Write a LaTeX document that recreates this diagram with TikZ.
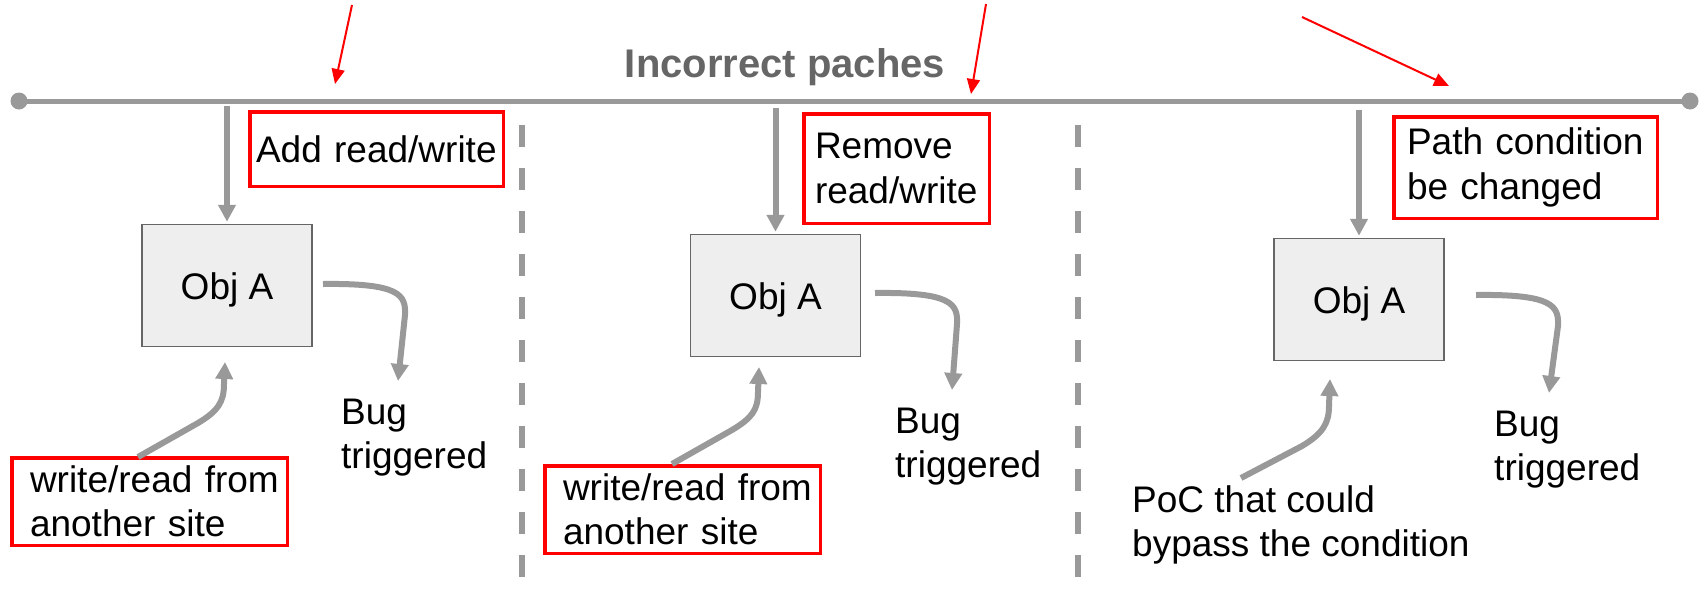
\documentclass[tikz,border=0pt]{standalone}
\usepackage{fontspec}
\setmainfont{Liberation Sans}
\usetikzlibrary{arrows.meta}
\definecolor{lgray}{HTML}{999999}
\definecolor{tgray}{HTML}{666666}
\definecolor{boxfill}{HTML}{EEEEEE}
\definecolor{boxline}{HTML}{666666}
\definecolor{pred}{HTML}{FF0000}
\begin{document}
\begin{tikzpicture}[x=1pt,y=-1pt,
  body/.style={font=\fontsize{37}{44.5}\selectfont},
  redbox/.style={draw=pred, line width=3.5pt, anchor=north west, align=left, inner ysep=0pt, body},
  objbox/.style={draw=boxline, fill=boxfill, line width=1.5pt, minimum width=170pt, minimum height=122pt, body, text height=27pt, text depth=0pt},
  flow/.style={draw=lgray, line width=6pt, line join=round, -{Triangle[length=17pt,width=17pt]}},
  hint/.style={draw=pred, line width=2pt, -{Triangle[length=15pt,width=13pt]}},
  lab/.style={body, align=left, anchor=north west, inner sep=0pt},
  sep/.style={draw=lgray, line width=6pt, dash pattern=on 22pt off 21pt}]
\useasboundingbox (0,0) rectangle (1704,590);

% title
\node[font=\fontsize{40}{48}\selectfont\bfseries, text=tgray, anchor=base] (title) at (785,77) {Incorrect paches};

% timeline
\node[circle, fill=lgray, inner sep=0pt, minimum size=17pt] (tl) at (19,101) {};
\node[circle, fill=lgray, inner sep=0pt, minimum size=17pt] (tr) at (1690,101) {};
\draw[lgray, line width=5pt] (tl.center) -- (tr.center);

% separators
\coordinate (v1t) at (522,125);
\coordinate (v1b) at (522,590);
\coordinate (v2t) at (1078,125);
\coordinate (v2b) at (1078,590);
\draw[sep] (v1t) -- (v1b);
\draw[sep] (v2t) -- (v2b);

% patch boxes
\node[redbox, text width=241pt, inner xsep=6.25pt, minimum height=74.5pt] (p1) at (248,110) {Add read/write};
\node[redbox, text width=163pt, inner xsep=11.25pt, minimum height=109.5pt] (p2) at (802,112) {Remove\\read/write};
\node[redbox, text width=237pt, inner xsep=13.25pt, minimum height=101.5pt] (p3) at (1392,115) {Path condition\\be changed};

% objects
\node[objbox] (o1) at (227,285.5) {Obj A};
\node[objbox] (o2) at (775.5,295.5) {Obj A};
\node[objbox] (o3) at (1359,299.5) {Obj A};

% bottom sources
\node[redbox, text width=239pt, inner xsep=18.25pt, minimum height=87.5pt] (s1box) at (10,456) {write/read~from\\another site};
\node[redbox, text width=239pt, inner xsep=18.25pt, minimum height=87.5pt] (s2box) at (543,464) {write/read~from\\another site};
\node[lab] (poc) at (1132,485) {PoC that could\\bypass the condition};

% bug labels
\node[lab] (bug1) at (341,398.5) {Bug\\triggered};
\node[lab] (bug2) at (895,407.5) {Bug\\triggered};
\node[lab] (bug3) at (1494,410.5) {Bug\\triggered};

% down arrows from timeline
\coordinate (d1) at (227,106);
\coordinate (d2) at (775.5,108);
\coordinate (d3) at (1359,110);
\draw[flow, shorten >=2pt] (d1) -- (o1.north);
\draw[flow, shorten >=2pt] (d2) -- (o2.north);
\draw[flow, shorten >=2pt] (d3) -- (o3.north);

% bug arrows
\coordinate (a1) at (323,284);
\coordinate (c1) at (398,381);
\coordinate (a2) at (875,293);
\coordinate (c2) at (952,390);
\coordinate (a3) at (1476,295);
\coordinate (c3) at (1549,393);
\draw[flow] (a1) .. controls (400,283) and (406,295) .. (405,315) -- (c1);
\draw[flow] (a2) .. controls (952,292) and (958,304) .. (957,324) -- (c2);
\draw[flow] (a3) .. controls (1553,294) and (1559,306) .. (1558,326) -- (c3);

% source arrows
\coordinate (s1) at (138,457);
\coordinate (e1) at (225,362);
\coordinate (s2) at (672,464);
\coordinate (e2) at (759,367);
\coordinate (s3) at (1241,478);
\coordinate (e3) at (1330,379);
\draw[flow] (s1) -- (198,423) .. controls (218,411) and (224,402) .. (224,384) -- (e1);
\draw[flow] (s2) -- (732,430) .. controls (752,418) and (758,410) .. (758,392) -- (e2);
\draw[flow] (s3) -- (1302,446) .. controls (1322,434) and (1329,424) .. (1329,406) -- (e3);

% red hint arrows
\coordinate (h1s) at (352,5);
\coordinate (h1e) at (335,84);
\coordinate (h2s) at (986,4);
\coordinate (h2e) at (971,94);
\coordinate (h3s) at (1302,17);
\coordinate (h3e) at (1449,86);
\draw[hint] (h1s) -- (h1e);
\draw[hint] (h2s) -- (h2e);
\draw[hint] (h3s) -- (h3e);
\end{tikzpicture}
\end{document}
